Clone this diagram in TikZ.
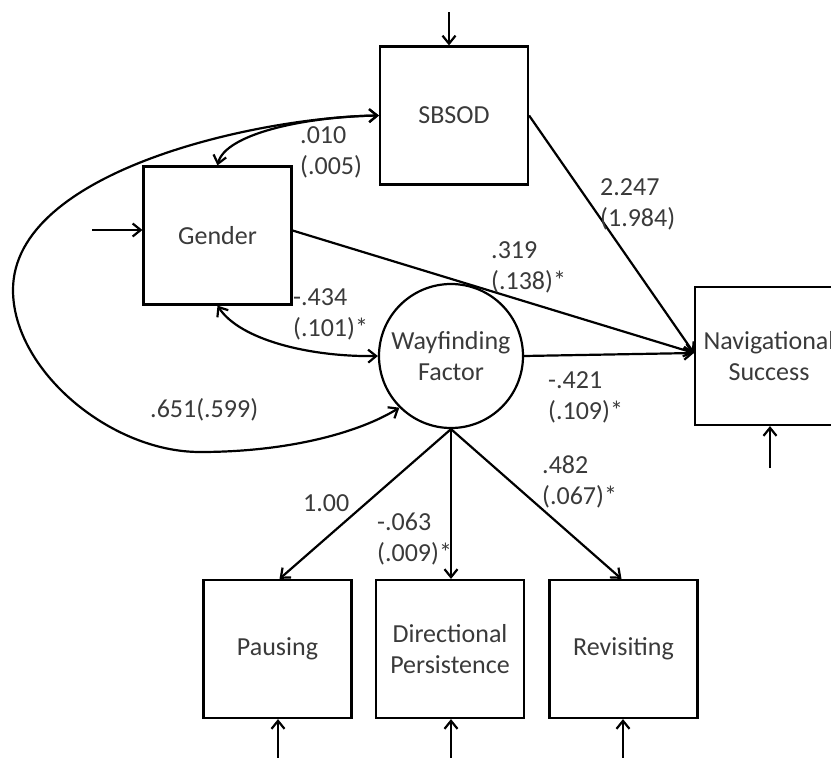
\documentclass[tikz,border=0pt]{standalone}
\usepackage{fontspec}
\setmainfont{Carlito}
\usetikzlibrary{arrows.meta}
\definecolor{txtgray}{HTML}{3A3A3A}
\begin{document}
\begin{tikzpicture}[x=1pt,y=-1pt,
  font=\fontsize{26}{31}\selectfont,
  box/.style={draw, line width=2.2pt, minimum width=148pt, minimum height=138pt, inner sep=0pt, text=txtgray, align=center},
  latent/.style={draw, circle, line width=2.2pt, minimum size=144pt, inner sep=0pt, text=txtgray, align=center},
  lab/.style={inner sep=0pt, anchor=west, align=left, text=txtgray},
  arr/.style={line width=2.2pt, -{Straight Barb[length=8pt,width=13pt]}},
  darr/.style={line width=2.2pt, {Straight Barb[length=8pt,width=13pt]}-{Straight Barb[length=8pt,width=13pt]}}]
\useasboundingbox (0,0) rectangle (831,758);
% nodes
\node[box] (sbsod) at (454,115.5) {SBSOD};
\node[box] (gender) at (217.5,235.5) {Gender};
\node[latent] (way) at (451,356) {Wayfinding\\Factor};
\node[box] (nav) at (769,356) {Navigational\\Success};
\node[box] (paus) at (277.5,649) {Pausing};
\node[box] (dirp) at (450,649) {Directional\\Persistence};
\node[box] (revi) at (623.5,649) {Revisiting};
% error arrows
\coordinate (eS) at (449,12);
\coordinate (eG) at (92,230);
\coordinate (eN) at (770,468);
\coordinate (eP) at (278,760);
\coordinate (eD) at (451,760);
\coordinate (eR) at (623,760);
\draw[arr] (eS) -- (eS |- sbsod.north);
\draw[arr] (eG) -- (eG -| gender.west);
\draw[arr] (eN) -- (eN |- nav.south);
\draw[arr] (eP) -- (eP |- paus.south);
\draw[arr] (eD) -- (eD |- dirp.south);
\draw[arr] (eR) -- (eR |- revi.south);
% paths to navigational success
\coordinate (navin) at ([yshift=3pt]nav.west);
\draw[arr] ([yshift=5pt]gender.east) -- (navin);
\draw[arr] (sbsod.east) -- (navin);
\draw[arr] (way.east) -- (navin);
% loadings
\draw[arr] (way.south) -- ([xshift=2pt]paus.north);
\draw[arr] (way.south) -- ([xshift=1pt]dirp.north);
\draw[arr] (way.south) -- ([xshift=-2pt]revi.north);
% covariances
\draw[darr] (gender.north) .. controls (225,135) and (300,117) .. (sbsod.west);
\draw[darr] (gender.south) .. controls (240,340) and (310,357) .. (way.west);
\coordinate (loopL) at (13,290);
\coordinate (loopB) at (200,452);
\draw[darr]
  (sbsod.west) .. controls (260,117) and (13,170) .. (loopL)
  .. controls (13,370) and (110,452) .. (loopB)
  .. controls (290,452) and (360,432) .. (way.225);
% labels
\node[lab] (l010) at (300,152.5) {.010\\(.005)};
\node[lab] (l2247) at (600,204) {2.247\\(1.984)};
\node[lab] (l319) at (491,267) {.319\\(.138)*};
\node[lab] (l434) at (293,314) {-.434\\(.101)*};
\node[lab] (l651) at (150,410) {.651(.599)};
\node[lab] (l421) at (548,397) {-.421\\(.109)*};
\node[lab] (l482) at (542,482) {.482\\(.067)*};
\node[lab] (l100) at (303,503) {1.00};
\node[lab] (l063) at (377,539) {-.063\\(.009)*};
\end{tikzpicture}
\end{document}
